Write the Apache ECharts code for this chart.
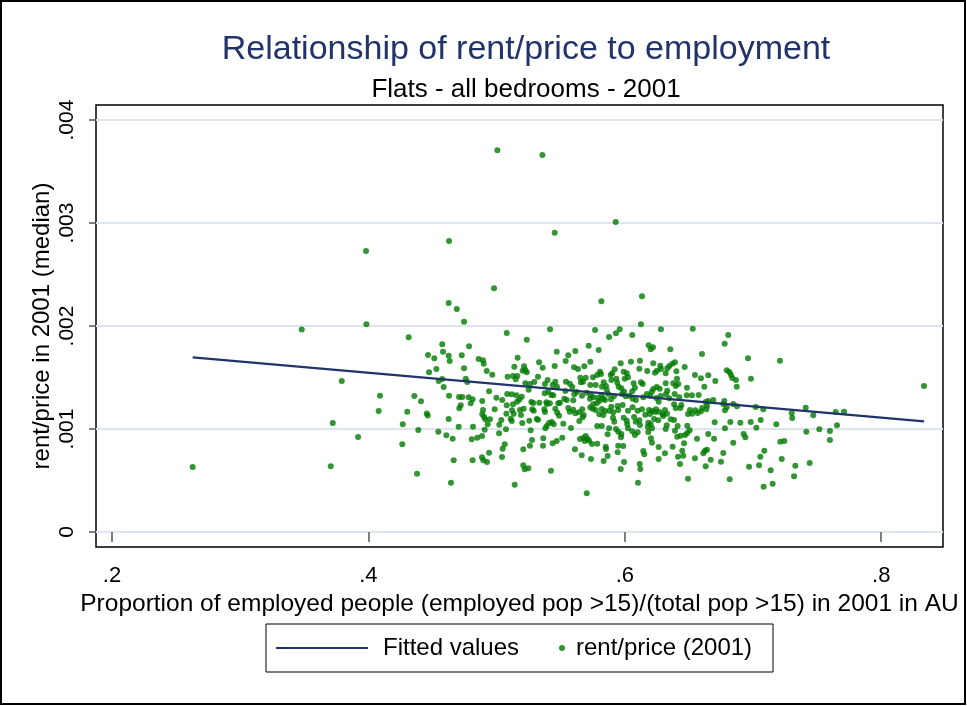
<!DOCTYPE html>
<html>
<head>
<meta charset="utf-8">
<title>rent/price vs employment</title>
<script src="https://cdn.jsdelivr.net/npm/echarts@6/dist/echarts.min.js"></script>
<style>
  html, body { margin: 0; padding: 0; background: #fff; }
  #chart { width: 967px; height: 706px; }
</style>
</head>
<body>
<div id="chart"></div>
<script>
// [employed share, rent/price]
var flats2001 = [
  [0.4629,0.002825],[0.3981,0.002728],[0.4626,0.002223],[0.4689,0.002165],[0.4746,0.002042],[0.3984,0.002017],
  [0.3480,0.001966],[0.5006,0.003706],[0.5357,0.003660],[0.5929,0.003010],[0.5453,0.002906],[0.4980,0.002366],
  [0.5817,0.002240],[0.6134,0.002288],[0.6126,0.002017],[0.5417,0.001968],[0.5768,0.001961],[0.5960,0.001968],
  [0.6282,0.001968],[0.6530,0.001974],[0.4314,0.001890],[0.4465,0.001718],[0.4473,0.001550],[0.3792,0.001466],
  [0.4090,0.001323],[0.4358,0.001320],[0.4410,0.001269],[0.4080,0.001175],[0.4303,0.001168],[0.4455,0.001150],
  [0.4463,0.001131],[0.3722,0.001058],[0.4268,0.001046],[0.4389,0.000990],[0.3919,0.000922],[0.4264,0.000851],
  [0.3706,0.000638],[0.4379,0.000566],[0.2629,0.000631],[0.8334,0.001417],
  [0.5079,0.001932],[0.5235,0.001867],[0.4576,0.001822],[0.4785,0.001803],[0.4582,0.001750],[0.4514,0.001686],
  [0.4626,0.001712],[0.4634,0.001660],[0.4728,0.001716],[0.5469,0.001750],[0.5559,0.001716],[0.5614,0.001757],
  [0.5718,0.001809],[0.5164,0.001692],[0.4860,0.001680],[0.4894,0.001667],[0.4899,0.001634],[0.5331,0.001648],
  [0.5539,0.001660],[0.5731,0.001653],[0.4746,0.001589],[0.4530,0.001583],[0.5138,0.001605],[0.5214,0.001609],
  [0.5224,0.001573],[0.5235,0.001550],[0.5203,0.001566],[0.5359,0.001595],[0.5453,0.001612],[0.5604,0.001599],
  [0.5635,0.001583],[0.5684,0.001609],[0.4923,0.001563],[0.4966,0.001527],[0.5086,0.001508],[0.5128,0.001515],
  [0.5149,0.001483],[0.5161,0.001515],[0.5323,0.001508],[0.5398,0.001476],[0.5377,0.001437],[0.5458,0.001459],
  [0.5437,0.001427],[0.5471,0.001411],[0.5541,0.001459],[0.5572,0.001440],[0.5590,0.001408],[0.5653,0.001498],
  [0.5674,0.001459],[0.5695,0.001498],[0.5658,0.001453],[0.5752,0.001502],[0.5731,0.001427],[0.5773,0.001427],
  [0.4548,0.001466],[0.4576,0.001485],[0.4759,0.001488],[0.4771,0.001456],[0.4587,0.001408],[0.4941,0.001366],
  [0.5224,0.001444],[0.5250,0.001382],[0.5294,0.001456],[0.5260,0.001437],[0.5375,0.001347],[0.5403,0.001362],
  [0.5427,0.001330],[0.5442,0.001327],[0.5536,0.001369],[0.5547,0.001282],[0.5528,0.001294],[0.5606,0.001337],
  [0.5625,0.001359],[0.5598,0.001279],[0.5666,0.001323],[0.5705,0.001352],[0.5728,0.001294],[0.5754,0.001308],
  [0.5736,0.001327],[0.4629,0.001323],[0.4707,0.001311],[0.4732,0.001311],[0.4782,0.001308],[0.4813,0.001288],
  [0.4798,0.001250],[0.4720,0.001230],[0.4709,0.001201],[0.4888,0.001272],[0.4998,0.001304],[0.5044,0.001282],
  [0.5083,0.001340],[0.5118,0.001337],[0.5154,0.001327],[0.5177,0.001284],[0.5196,0.001314],[0.5079,0.001230],
  [0.5128,0.001240],[0.5159,0.001265],[0.5271,0.001262],[0.5286,0.001252],[0.5333,0.001255],[0.5388,0.001259],
  [0.5393,0.001243],[0.5416,0.001250],[0.5481,0.001250],[0.5494,0.001255],[0.4894,0.001184],[0.4888,0.001143],
  [0.4902,0.001117],[0.4912,0.001094],[0.4985,0.001191],[0.5076,0.001149],[0.5120,0.001182],[0.5133,0.001149],
  [0.5110,0.001100],[0.5118,0.001078],[0.5182,0.001184],[0.5190,0.001136],[0.5211,0.001197],[0.5278,0.001191],
  [0.5289,0.001178],[0.5313,0.001097],[0.5323,0.001090],[0.5372,0.001191],[0.5377,0.001165],[0.5458,0.001197],
  [0.5473,0.001158],[0.5487,0.001129],[0.5559,0.001204],[0.5570,0.001168],[0.5598,0.001187],[0.5614,0.001152],
  [0.5643,0.001162],[0.5668,0.001191],[0.5679,0.001136],[0.5731,0.001211],[0.5749,0.001197],[0.5773,0.001184],
  [0.5754,0.001240],[0.4626,0.001097],[0.4948,0.001094],[0.4930,0.001046],[0.5037,0.001087],[0.5021,0.001042],
  [0.5200,0.001058],[0.5255,0.001081],[0.5409,0.001058],[0.5430,0.001068],[0.5445,0.001046],[0.5520,0.001051],
  [0.5580,0.001010],[0.5645,0.001078],[0.5671,0.001114],[0.4704,0.001022],[0.4816,0.001022],[0.4907,0.000993],
  [0.5073,0.000997],[0.5266,0.000987],[0.5380,0.001007],[0.5391,0.001029],[0.4545,0.000974],[0.4608,0.000939],
  [0.4657,0.000906],[0.4806,0.000900],[0.4849,0.000916],[0.4886,0.000932],[0.5019,0.000958],[0.5276,0.000893],
  [0.5364,0.000910],[0.5469,0.000883],[0.5437,0.000861],[0.5512,0.000916],[0.5650,0.000903],[0.5676,0.000913],
  [0.5695,0.000932],[0.5710,0.000903],[0.5687,0.000883],[0.5721,0.000886],[0.5744,0.000854],[0.5063,0.000851],
  [0.5047,0.000809],[0.5260,0.000838],[0.5362,0.000838],[0.5611,0.000803],[0.5785,0.000857],[0.4941,0.000770],
  [0.5042,0.000728],[0.5208,0.000803],[0.5664,0.000745],[0.5736,0.000709],[0.4665,0.000696],[0.4813,0.000696],
  [0.4886,0.000725],[0.4896,0.000696],[0.4925,0.000680],[0.5208,0.000648],[0.5219,0.000609],[0.5247,0.000618],
  [0.5424,0.000595],[0.4644,0.000479],[0.5141,0.000459],[0.5703,0.000376],
  [0.5835,0.000689],[0.5851,0.000828],[0.5853,0.000806],[0.5866,0.000738],[0.5949,0.000838],[0.5944,0.000774],
  [0.5988,0.000835],[0.5968,0.000612],[0.5994,0.000680],[0.6103,0.000479],[0.6116,0.000660],[0.6121,0.000612],
  [0.6144,0.000786],[0.6152,0.000754],[0.6212,0.000867],[0.6264,0.000825],[0.6264,0.000709],[0.6313,0.000764],
  [0.6373,0.000828],[0.6415,0.000731],[0.6448,0.000789],[0.6456,0.000741],[0.6462,0.000861],[0.6430,0.000660],
  [0.6493,0.000517],[0.6547,0.000716],[0.6612,0.000764],[0.6625,0.000789],[0.6641,0.000799],[0.6631,0.000638],
  [0.6670,0.000702],[0.6750,0.000683],[0.6768,0.000767],[0.6818,0.000512],[0.6846,0.000867],[0.6969,0.000634],
  [0.7047,0.000648],[0.7057,0.000731],[0.7088,0.000789],[0.7083,0.000440],[0.7138,0.000599],[0.7153,0.000469],
  [0.7224,0.000709],[0.7213,0.000877],[0.7244,0.000883],[0.7320,0.000541],[0.7330,0.000644],[0.7442,0.000670],
  [0.5931,0.001929],[0.6058,0.001913],[0.5877,0.001893],[0.6807,0.001913],[0.6779,0.001828],[0.6186,0.001813],
  [0.6202,0.001774],[0.6220,0.001793],[0.6355,0.001774],[0.5796,0.001767],[0.6602,0.001728],[0.6961,0.001686],
  [0.5968,0.001638],[0.6048,0.001653],[0.6118,0.001663],[0.6222,0.001638],[0.6277,0.001615],[0.6282,0.001583],
  [0.6347,0.001612],[0.6370,0.001634],[0.6391,0.001648],[0.6331,0.001589],[0.6467,0.001602],[0.6113,0.001585],
  [0.5921,0.001580],[0.5806,0.001556],[0.5785,0.001524],[0.5814,0.001534],[0.5890,0.001524],[0.5902,0.001541],
  [0.5895,0.001476],[0.5991,0.001556],[0.6015,0.001541],[0.6025,0.001502],[0.5999,0.001488],[0.5934,0.001488],
  [0.6175,0.001563],[0.6235,0.001547],[0.6251,0.001566],[0.6319,0.001541],[0.6402,0.001560],[0.6407,0.001488],
  [0.6547,0.001524],[0.6594,0.001492],[0.6651,0.001521],[0.6706,0.001466],[0.6795,0.001570],[0.6815,0.001553],
  [0.6828,0.001527],[0.6867,0.001476],[0.6838,0.001495],[0.6873,0.001411],[0.6984,0.001488],[0.5835,0.001453],
  [0.5822,0.001411],[0.5853,0.001417],[0.5859,0.001379],[0.5941,0.001450],[0.5952,0.001411],[0.5973,0.001395],
  [0.6069,0.001444],[0.6079,0.001401],[0.6058,0.001366],[0.6126,0.001453],[0.6140,0.001437],[0.6210,0.001362],
  [0.6222,0.001388],[0.6249,0.001408],[0.6272,0.001391],[0.6319,0.001444],[0.6331,0.001372],[0.6321,0.001337],
  [0.6378,0.001444],[0.6397,0.001417],[0.6417,0.001437],[0.6485,0.001401],[0.6620,0.001411],[0.6576,0.001330],
  [0.6524,0.001327],[0.6483,0.001327],[0.6389,0.001340],[0.6425,0.001308],[0.6347,0.001298],[0.6280,0.001320],
  [0.6246,0.001301],[0.6264,0.001265],[0.6199,0.001323],[0.6173,0.001340],[0.6144,0.001308],[0.6087,0.001282],
  [0.6061,0.001294],[0.6035,0.001323],[0.5994,0.001362],[0.6007,0.001317],[0.5978,0.001340],[0.5916,0.001320],
  [0.5892,0.001288],[0.5871,0.001340],[0.5820,0.001330],[0.5791,0.001304],[0.5832,0.001294],[0.5781,0.001250],
  [0.5801,0.001272],[0.5845,0.001282],[0.6631,0.001262],[0.6651,0.001272],[0.6690,0.001282],[0.6776,0.001272],
  [0.6768,0.001243],[0.6795,0.001211],[0.6781,0.001182],[0.6846,0.001243],[0.6875,0.001220],[0.7021,0.001214],
  [0.7080,0.001191],[0.6982,0.001068],[0.7060,0.001087],[0.7026,0.001013],[0.6701,0.001065],[0.6823,0.001068],
  [0.6901,0.001061],[0.6927,0.000951],[0.6940,0.000919],[0.6781,0.001007],[0.6651,0.000951],[0.6696,0.000906],
  [0.6563,0.000906],[0.6487,0.001032],[0.6506,0.000987],[0.6487,0.000961],[0.6470,0.000942],[0.6436,0.000935],
  [0.6412,0.001029],[0.6391,0.000984],[0.6508,0.001184],[0.6524,0.001149],[0.6493,0.001146],[0.6550,0.001182],
  [0.6568,0.001155],[0.6594,0.001172],[0.6636,0.001191],[0.6641,0.001226],[0.6604,0.001204],[0.6433,0.001204],
  [0.6441,0.001233],[0.6397,0.001204],[0.6384,0.001240],[0.6313,0.001184],[0.6295,0.001143],[0.6329,0.001149],
  [0.6243,0.001191],[0.6238,0.001165],[0.6267,0.001168],[0.6189,0.001184],[0.6212,0.001175],[0.6196,0.001146],
  [0.6134,0.001191],[0.6100,0.001178],[0.6061,0.001211],[0.6025,0.001178],[0.5983,0.001233],[0.5944,0.001223],
  [0.5949,0.001184],[0.5895,0.001217],[0.5910,0.001162],[0.5879,0.001178],[0.5820,0.001194],[0.5845,0.001175],
  [0.5832,0.001136],[0.5801,0.001143],[0.5908,0.001110],[0.5918,0.001071],[0.5991,0.001110],[0.6015,0.001081],
  [0.6019,0.001046],[0.6072,0.001117],[0.6085,0.001071],[0.6113,0.001084],[0.6118,0.001039],[0.6160,0.001139],
  [0.6183,0.001061],[0.6228,0.001097],[0.6261,0.001084],[0.6300,0.001126],[0.6327,0.001036],[0.6358,0.001094],
  [0.6384,0.001087],[0.5785,0.001029],[0.5820,0.001029],[0.5877,0.001007],[0.5931,0.001000],[0.5949,0.000974],
  [0.5973,0.000951],[0.6025,0.001007],[0.6058,0.000978],[0.6079,0.000942],[0.6100,0.000968],[0.6179,0.001022],
  [0.6202,0.001046],[0.6212,0.001007],[0.6183,0.000971],[0.6319,0.001000],[0.5866,0.000949],[0.6204,0.000910],
  [0.6409,0.000925],[0.5970,0.000919],
  [0.7210,0.001663],[0.7182,0.001046],[0.7302,0.001152],[0.7306,0.001107],[0.7411,0.001207],[0.7470,0.001133],
  [0.7645,0.001165],[0.7710,0.001168],[0.7655,0.001036],[0.7517,0.000997],[0.7600,0.000981],[0.7416,0.000974],
  [0.7600,0.000893]
];

// fitted line, ends
var fitted = [[0.2629, 0.001696], [0.8334, 0.001074]];

var xTicks = [0.2, 0.4, 0.6, 0.8];
var yTicks = [0, 0.001, 0.002, 0.003, 0.004];

function dotLabel(v) {
  if (v === 0) return '0';
  return String(v).replace(/^0/, '');
}

var font = "'Liberation Sans', Arial, sans-serif";
var navy = '#22336a';
var green = '#007a00';

var chart = echarts.init(document.getElementById('chart'));

var option = {
  animation: false,
  backgroundColor: '#fff',
  textStyle: { fontFamily: font, color: '#000' },
  title: [{
    text: 'Relationship of rent/price to employment',
    subtext: 'Flats - all bedrooms - 2001',
    left: 521,
    top: 25,
    textAlign: 'center',
    itemGap: 5,
    textStyle: { fontFamily: font, fontSize: 34, fontWeight: 'normal', color: navy, lineHeight: 40 },
    subtextStyle: { fontFamily: font, fontSize: 26, color: '#000', lineHeight: 30 }
  }],
  grid: {
    left: 96, right: 24, top: 105, bottom: 159,
    show: true, borderColor: '#000', borderWidth: 1.5, backgroundColor: '#fff'
  },
  xAxis: {
    type: 'value',
    min: 0.1875, max: 0.8482,
    name: 'Proportion of employed people (employed pop >15)/(total pop >15) in 2001 in AU',
    nameLocation: 'middle',
    nameGap: 40,
    nameTextStyle: { fontFamily: font, fontSize: 24.5, color: '#000' },
    axisLine: { show: false },
    axisTick: { show: true, inside: false, length: 10, customValues: xTicks, lineStyle: { color: '#555', width: 1.5 } },
    axisLabel: { customValues: xTicks, formatter: dotLabel, fontSize: 22, color: '#000', margin: 18 },
    splitLine: { show: false }
  },
  yAxis: {
    type: 'value',
    min: -0.000146, max: 0.004146,
    name: 'rent/price in 2001 (median)',
    nameLocation: 'middle',
    nameRotate: 90,
    nameGap: 42,
    nameMoveOverlap: false,
    nameTextStyle: { fontFamily: font, fontSize: 24, color: '#000' },
    axisLine: { show: false },
    axisTick: { show: true, inside: false, length: 7, customValues: yTicks, lineStyle: { color: '#555', width: 1.5 } },
    axisLabel: { customValues: yTicks, formatter: dotLabel, rotate: 90, fontSize: 21, color: '#000', margin: 18 },
    // grid lines follow the custom tick values
    splitLine: { show: true, customValues: yTicks, lineStyle: { color: '#dfe5ee', width: 2 } }
  },
  legend: [{
    data: ['Fitted values'],
    left: 276, top: 634, padding: 0,
    itemWidth: 92, itemHeight: 2, icon: 'rect',
    textStyle: { fontFamily: font, fontSize: 24, color: '#000', lineHeight: 28, padding: [0, 0, 0, 10] }
  }, {
    data: ['rent/price (2001)'],
    left: 559, top: 634, padding: 0,
    itemWidth: 6, itemHeight: 6, icon: 'circle',
    textStyle: { fontFamily: font, fontSize: 24, color: '#000', lineHeight: 28, padding: [0, 0, 0, 6] }
  }],
  graphic: [
    { type: 'rect', shape: { x: 266, y: 624, width: 507, height: 48 }, style: { fill: 'none', stroke: '#000', lineWidth: 1 } },
    { type: 'rect', shape: { x: 1, y: 1, width: 964, height: 703 }, style: { fill: 'none', stroke: '#000', lineWidth: 2 } }
  ],
  series: [
    {
      name: 'rent/price (2001)',
      type: 'scatter',
      data: flats2001,
      symbolSize: 6,
      z: 3,
      itemStyle: { color: green }
    },
    {
      name: 'Fitted values',
      type: 'line',
      data: fitted,
      symbol: 'none',
      z: 4,
      lineStyle: { color: navy, width: 2.2 },
      itemStyle: { color: navy }
    }
  ]
};

chart.setOption(option);
</script>
</body>
</html>
